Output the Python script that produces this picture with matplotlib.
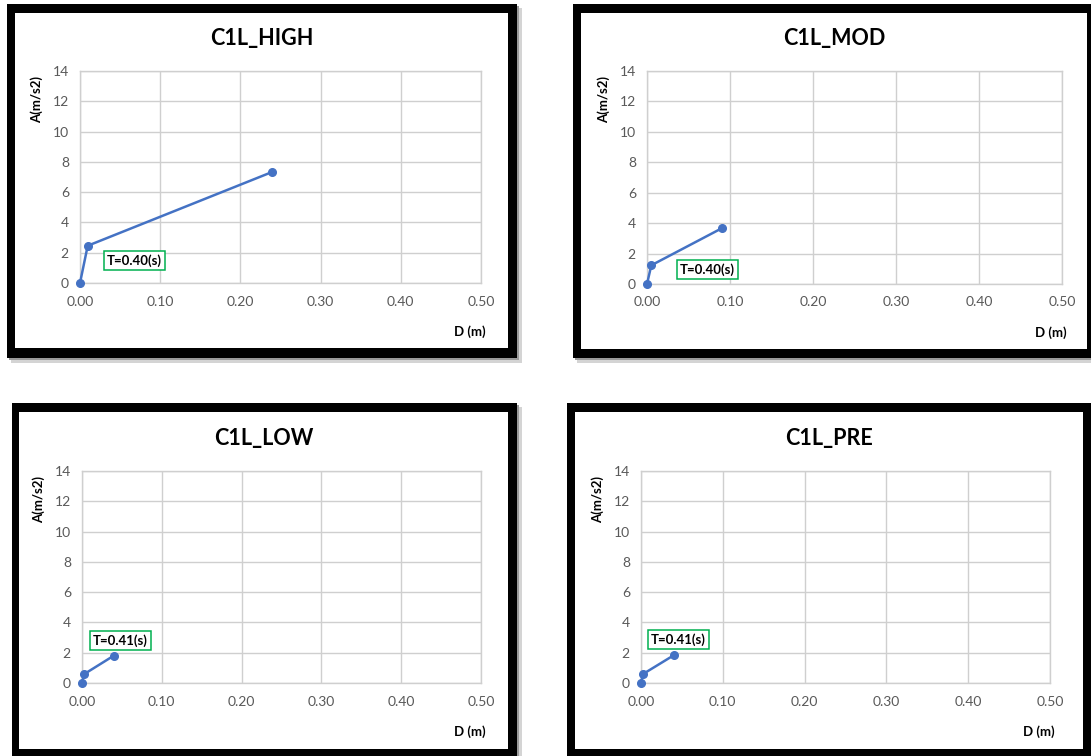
import matplotlib.pyplot as plt
from matplotlib.patches import Rectangle

plt.rcParams['font.family'] = ['Lato', 'DejaVu Sans']

W, H = 1091, 756

# data
titles = ['C1L_HIGH', 'C1L_MOD', 'C1L_LOW', 'C1L_PRE']
d_high = [0.0, 0.0096, 0.240]
a_high = [0.0, 2.46, 7.34]
d_mod = [0.0, 0.0052, 0.090]
a_mod = [0.0, 1.23, 3.66]
d_low = [0.0, 0.0025, 0.040]
a_low = [0.0, 0.58, 1.81]
d_pre = [0.0, 0.0024, 0.040]
a_pre = [0.0, 0.59, 1.83]
periods = ['T=0.40(s)', 'T=0.40(s)', 'T=0.41(s)', 'T=0.41(s)']
label_pos = [(0.068, 1.47), (0.073, 0.94), (0.048, 2.82), (0.046, 2.86)]
x_ticks = [0.0, 0.1, 0.2, 0.3, 0.4, 0.5]
y_ticks = [0, 2, 4, 6, 8, 10, 12, 14]

series = [(d_high, a_high), (d_mod, a_mod), (d_low, a_low), (d_pre, a_pre)]

# pixel boxes (left, top, right, bottom): outer border, inner white, plot area
outer = [(7, 4, 517, 358), (573, 4, 1095, 358), (12, 403, 517, 760), (567, 403, 1095, 760)]
inner = [(15, 13, 508, 348), (581, 13, 1087, 349), (19, 412, 508, 749), (575, 412, 1083, 749)]
plots = [(80, 71, 481, 283), (647, 71, 1062, 284), (82, 471, 481, 683), (641, 471, 1050, 683)]


def rect(box, **kw):
    l, t, r, b = box
    return Rectangle((l / W, 1 - b / H), (r - l) / W, (b - t) / H,
                     transform=fig.transFigure, **kw)


def fx(x):
    return x / W


def fy(y):
    return 1 - y / H


fig = plt.figure(figsize=(W / 100, H / 100), dpi=100)
fig.patch.set_facecolor('white')

for i in range(4):
    o = outer[i]
    # soft shadow
    fig.patches.append(rect((o[0] + 4, o[1] + 4, o[2] + 5, o[3] + 5), facecolor='#d4d4d4',
                            edgecolor='none', zorder=0))
    fig.patches.append(rect((o[0] + 2, o[1] + 2, o[2] + 2, o[3] + 2), facecolor='#9a9a9a',
                            edgecolor='none', zorder=0))
    fig.patches.append(rect(o, facecolor='black', edgecolor='none', zorder=1))
    fig.patches.append(rect(inner[i], facecolor='white', edgecolor='none', zorder=2))

    l, t, r, b = plots[i]
    ax = fig.add_axes([l / W, 1 - b / H, (r - l) / W, (b - t) / H])
    ax.set_zorder(3)
    ax.set_facecolor('white')
    d, a = series[i]
    ax.plot(d, a, color='#4472C4', linewidth=1.8, marker='o', markersize=5.5, zorder=3,
            clip_on=False)
    ax.set_xlim(0, 0.5)
    ax.set_ylim(0, 14)
    ax.set_xticks(x_ticks)
    ax.set_xticklabels(['%.2f' % v for v in x_ticks])
    ax.set_yticks(y_ticks)
    ax.grid(True, color='#cfcfcf', linewidth=1)
    ax.set_axisbelow(True)
    for s in ax.spines.values():
        s.set_color('#cfcfcf')
        s.set_linewidth(1)
    ax.tick_params(length=0, labelsize=10, labelcolor='#595959')
    ax.tick_params(axis='x', pad=9)
    ax.tick_params(axis='y', pad=8)

    lx, ly = label_pos[i]
    ax.text(lx, ly, periods[i], ha='center', va='center', fontsize=9.5, fontweight='bold',
            color='black', zorder=5,
            bbox=dict(boxstyle='square,pad=0.25', facecolor='white', edgecolor='#00B050',
                      linewidth=1.1))

    il, it, ir, ib = inner[i]
    fig.text(fx((il + ir) / 2), fy(it + 26), titles[i], ha='center', va='center',
             fontsize=15.5, fontweight='bold', color='black', zorder=4)
    fig.text(fx(l - 43), fy(t + 5), 'A(m/s2)', rotation=90, ha='center', va='top',
             fontsize=9.5, fontweight='bold', color='black', zorder=4)
    fig.text(fx(r + 5), fy(b + 49), 'D (m)', ha='right', va='center',
             fontsize=9.5, fontweight='bold', color='black', zorder=4)

fig.savefig('out.png', dpi=100)
